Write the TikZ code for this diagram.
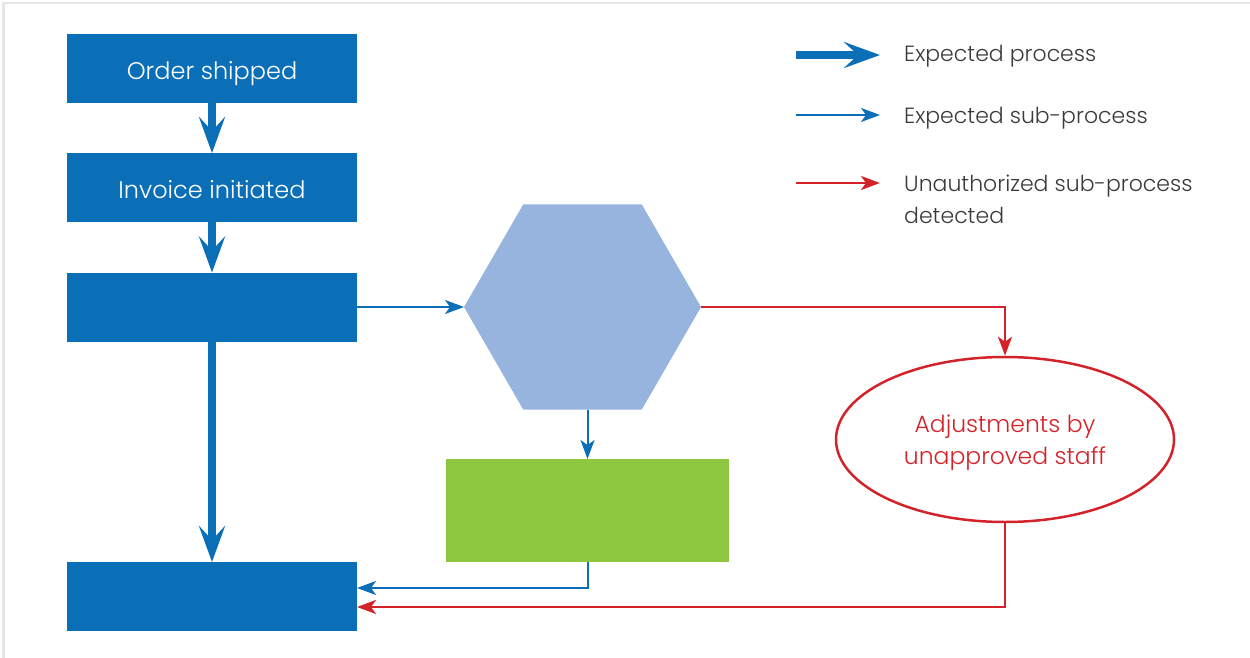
\documentclass[tikz,border=0pt]{standalone}
\usepackage{fontspec}
\setmainfont{Poppins}[UprightFont=* Light]
\usetikzlibrary{arrows.meta,shapes.geometric}
\definecolor{dblue}{HTML}{0B6FB8}
\definecolor{lblue}{HTML}{97B4DF}
\definecolor{lgreen}{HTML}{8DC63F}
\definecolor{dred}{HTML}{D2232A}
\definecolor{framegray}{HTML}{E6E6E6}
\definecolor{ltext}{HTML}{3A3A3A}
\begin{document}
\begin{tikzpicture}[x=1pt,y=-1pt,
  box/.style={rectangle, fill=dblue, text=white, minimum width=290pt, minimum height=69pt, inner sep=0pt, outer sep=0pt,
    font=\fontsize{24}{32}\selectfont, text height=21.6pt, text depth=0pt},
  mainarrow/.style={draw=dblue, line width=8pt, -{Stealth[length=36pt,width=26pt,inset=14pt]}},
  subarrow/.style={draw=dblue, line width=2pt, -{Stealth[length=19pt,width=14pt,inset=5pt]}},
  badarrow/.style={draw=dred, line width=2.5pt, -{Stealth[length=19pt,width=14pt,inset=5pt]}},
  legendtext/.style={anchor=west, text=ltext, inner sep=0pt, align=left, font=\fontsize{22}{32}\selectfont},
]
\useasboundingbox (0,0) rectangle (1250,658);
\fill[framegray] (2,2) rectangle (1250,4.5);
\fill[framegray] (2,2) rectangle (4.5,658);

\node[box] (b1) at (212,68.5) {Order shipped};
\node[box] (b2) at (212,187.5) {Invoice initiated};
\node[box] (b3) at (212,307) {};
\node[box] (b4) at (212,596.5) {};
\node[regular polygon, regular polygon sides=6, fill=lblue, minimum size=237pt, inner sep=0pt, outer sep=0pt] (hex) at (582.5,307) {};
\node[rectangle, fill=lgreen, minimum width=283pt, minimum height=103pt, inner sep=0pt, outer sep=0pt] (gr) at (587.5,510.5) {};
\node[ellipse, draw=dred, line width=2.5pt, minimum width=338pt, minimum height=165pt, text=dred, align=center, inner sep=0pt,
  font=\fontsize{23.5}{32}\selectfont] (ell) at (1005,439.5) {\rule{0pt}{1.05em}Adjustments by\\unapproved staff};

\draw[mainarrow] (b1) -- (b2);
\draw[mainarrow] (b2) -- (b3);
\draw[mainarrow] (b3) -- (b4);
\draw[subarrow] (b3.east) -- (hex.west);
\draw[subarrow] (gr.north |- hex.south) -- (gr.north);
\draw[subarrow] (gr.south) |- ([yshift=8.5pt]b4.east);
\draw[badarrow] (hex.east) -| (ell.north);
\draw[badarrow] (ell.south) |- ([yshift=-10.5pt]b4.east);

\coordinate (l1a) at (796,55);
\coordinate (l1b) at (880,55);
\coordinate (l2a) at (796,115);
\coordinate (l2b) at (880,115);
\coordinate (l3a) at (796,183);
\coordinate (l3b) at (880,183);
\draw[mainarrow] (l1a) -- (l1b);
\draw[subarrow] (l2a) -- (l2b);
\draw[badarrow] (l3a) -- (l3b);
\node[legendtext, text height=15.4pt, text depth=0pt] (t1) at (904,54) {Expected process};
\node[legendtext, text height=15.4pt, text depth=0pt] (t2) at (904,115.6) {Expected sub-process};
\node[legendtext] (t3) at (904,199.5) {Unauthorized sub-process\\detected};
\end{tikzpicture}
\end{document}
